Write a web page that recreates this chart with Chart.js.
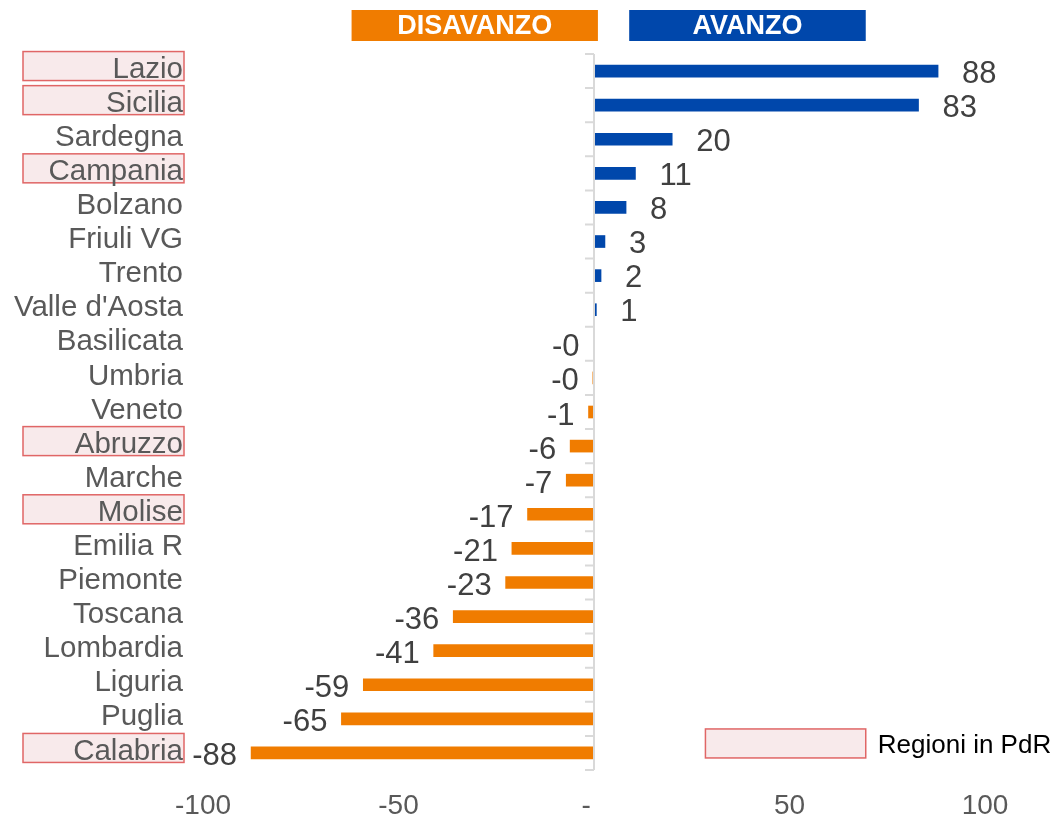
<!DOCTYPE html>
<html>
<head>
<meta charset="utf-8">
<script src="https://cdn.jsdelivr.net/npm/chart.js@4/dist/chart.umd.min.js"></script>
<style>
  html, body { margin: 0; padding: 0; background: #fff; }
  #wrap { width: 1056px; height: 820px; position: relative; }
</style>
</head>
<body>
<div id="wrap"><canvas id="chart" width="1056" height="820"></canvas></div>
<script>
// --- Dati ---
const regioni = ['Lazio', 'Sicilia', 'Sardegna', 'Campania', 'Bolzano', 'Friuli VG', 'Trento',
  "Valle d'Aosta", 'Basilicata', 'Umbria', 'Veneto', 'Abruzzo', 'Marche', 'Molise', 'Emilia R',
  'Piemonte', 'Toscana', 'Lombardia', 'Liguria', 'Puglia', 'Calabria'];
const saldi = [88, 83, 20, 10.6, 8.2, 2.8, 1.8, 0.6, -0.1, -0.3, -1.4, -6.1, -7.1, -17, -21,
  -22.6, -36, -41, -59, -64.6, -87.7];
const regioniPdR = ['Lazio', 'Sicilia', 'Campania', 'Abruzzo', 'Molise', 'Calabria'];
const xTicks = [-100, -50, 0, 50, 100];
const intestazioni = [
  { testo: 'DISAVANZO', da: -62, a: 1, colore: '#F07C00' },
  { testo: 'AVANZO', da: 9, a: 69.5, colore: '#0047AB' }
];
const legendaTesto = 'Regioni in PdR';

const BLU = '#0047AB';
const ARANCIO = '#F07C00';
const FONT = "'Liberation Sans', Arial, sans-serif";

// --- Plugin: riquadri PdR, intestazioni, etichette, legenda ---
const decorazioni = {
  id: 'decorazioni',
  beforeDraw(chart) {
    const { ctx } = chart;
    const y = chart.scales.y;
    ctx.save();
    regioni.forEach((r, i) => {
      if (!regioniPdR.includes(r)) return;
      const cy = y.getPixelForValue(i) - 5;
      ctx.fillStyle = '#F8EAEB';
      ctx.strokeStyle = '#E06666';
      ctx.lineWidth = 1.5;
      ctx.fillRect(23, cy - 14.5, 161, 29);
      ctx.strokeRect(23, cy - 14.5, 161, 29);
    });
    ctx.restore();
  },
  afterDatasetsDraw(chart) {
    const { ctx, chartArea } = chart;
    const x = chart.scales.x;
    const y = chart.scales.y;
    ctx.save();

    // linea dello zero con tacche
    const x0 = x.getPixelForValue(0);
    ctx.strokeStyle = '#D9D9D9';
    ctx.lineWidth = 2;
    ctx.beginPath();
    ctx.moveTo(x0, chartArea.top);
    ctx.lineTo(x0, chartArea.bottom);
    for (let i = 0; i <= regioni.length; i++) {
      const ty = chartArea.top + (chartArea.bottom - chartArea.top) * i / regioni.length;
      ctx.moveTo(x0 - 9, ty);
      ctx.lineTo(x0, ty);
    }
    ctx.stroke();

    // etichette dei valori
    ctx.font = '31px ' + FONT;
    ctx.fillStyle = '#404040';
    ctx.textBaseline = 'middle';
    chart.getDatasetMeta(0).data.forEach((bar, i) => {
      const v = saldi[i];
      const txt = (v < 0 ? '-' : '') + Math.round(Math.abs(v));
      if (v >= 0) {
        ctx.textAlign = 'left';
        ctx.fillText(txt, bar.x + 24, bar.y + 3);
      } else {
        ctx.textAlign = 'right';
        ctx.fillText(txt, bar.x - 14, bar.y + 4);
      }
    });

    // intestazioni DISAVANZO / AVANZO
    ctx.font = 'bold 27px ' + FONT;
    ctx.textAlign = 'center';
    intestazioni.forEach(h => {
      const l = x.getPixelForValue(h.da);
      const r = x.getPixelForValue(h.a);
      ctx.fillStyle = h.colore;
      ctx.fillRect(l, 10, r - l, 31);
      ctx.fillStyle = '#fff';
      ctx.fillText(h.testo, (l + r) / 2, 27);
    });

    // legenda
    const ly = y.getPixelForValue(regioni.length - 1) - 9.5;
    const lx1 = x.getPixelForValue(28.5);
    const lx2 = x.getPixelForValue(69.5);
    ctx.fillStyle = '#F8EAEB';
    ctx.strokeStyle = '#E06666';
    ctx.lineWidth = 1.5;
    ctx.fillRect(lx1, ly - 14.5, lx2 - lx1, 29);
    ctx.strokeRect(lx1, ly - 14.5, lx2 - lx1, 29);
    ctx.font = '26px ' + FONT;
    ctx.fillStyle = '#000';
    ctx.textAlign = 'left';
    ctx.fillText(legendaTesto, lx2 + 12, ly + 2);

    ctx.restore();
  }
};

new Chart(document.getElementById('chart'), {
  type: 'bar',
  data: {
    labels: regioni,
    datasets: [{
      data: saldi,
      backgroundColor: saldi.map(v => v >= 0 ? BLU : ARANCIO),
      barThickness: 12
    }]
  },
  options: {
    indexAxis: 'y',
    responsive: false,
    animation: false,
    devicePixelRatio: 1,
    layout: { padding: { top: 54, right: 71, left: 0, bottom: 0 } },
    plugins: { legend: { display: false }, tooltip: { enabled: false } },
    scales: {
      x: {
        min: -100,
        max: 100,
        afterBuildTicks: scale => { scale.ticks = xTicks.map(v => ({ value: v })); },
        afterFit: scale => { scale.height = 50; },
        grid: { display: false, drawTicks: false },
        border: { display: false },
        ticks: {
          padding: 19,
          color: '#595959',
          font: { family: FONT, size: 28 },
          callback: v => v === 0 ? '-  ' : v
        }
      },
      y: {
        afterFit: scale => { scale.width = 203; },
        grid: { display: false, drawTicks: false },
        border: { display: false },
        ticks: {
          autoSkip: false,
          padding: 20,
          labelOffset: -1.5,
          color: '#595959',
          font: { family: FONT, size: 29.5 }
        }
      }
    }
  },
  plugins: [decorazioni]
});
</script>
</body>
</html>
